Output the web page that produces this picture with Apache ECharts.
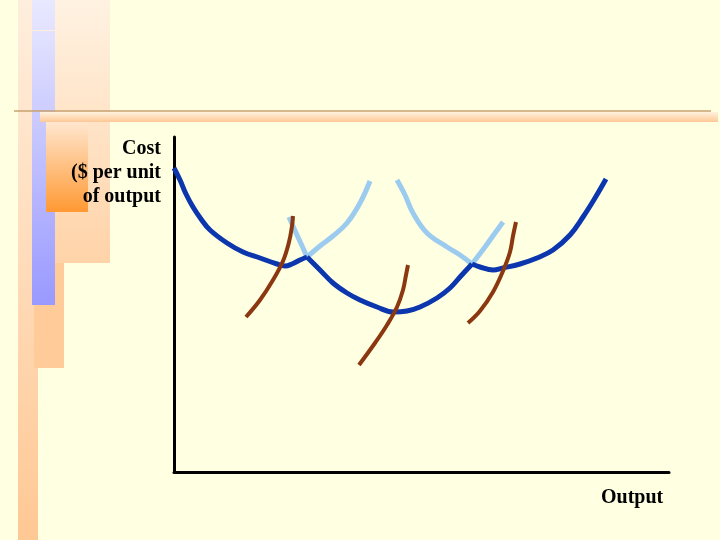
<!DOCTYPE html>
<html>
<head>
<meta charset="utf-8">
<script src="https://cdn.jsdelivr.net/npm/echarts@6/dist/echarts.min.js"></script>
<style>
  html, body { margin: 0; padding: 0; background: #FFFFE1; }
  #chart { width: 720px; height: 540px; }
</style>
</head>
<body>
<div id="chart"></div>
<script>
// Units are arbitrary: output (x) 0..495, cost per unit (y) 0..335.
// Long-run envelope, built from three short-run average cost pieces.
const sac1Low = [[0,304],[6,292],[12,278],[19,265],[27,253],[36,242],[53,229],[69,220],[86,214],[103,208],[111,206],[118,208],[126,212],[133,215]]
const sac2Low = [[133,215],[146,202],[159,189],[173,179],[186,172],[203,165],[219,160],[233,161],[246,165],[263,174],[276,184],[286,195],[298,208]]
const sac3Low = [[298,208],[306,205],[319,202],[329,204],[346,208],[363,214],[379,222],[396,237],[409,255],[421,274],[432,293]]

// Parts of the short-run curves that sit above the envelope
const sac2Left  = [[115,255],[123,237],[129,224],[133,215]]
const sac1Right = [[133,215],[146,226],[159,236],[173,249],[186,269],[196,291]]
const sac3Left  = [[223,292],[231,277],[239,259],[253,239],[273,225],[286,217],[298,208]]
const sac2Right = [[298,208],[311,225],[321,239],[329,250]]

// Short-run marginal cost curves
const smc1 = [[72,155],[86,172],[99,192],[109,211],[115,230],[118,246],[119,256]]
const smc2 = [[185,107],[201,129],[213,147],[223,165],[229,182],[232,197],[234,207]]
const smc3 = [[294,149],[306,161],[319,180],[329,201],[336,220],[339,236],[342,250]]

const DARK = '#0C36AE'
const LIGHT = '#9CCBF0'
const BROWN = '#8B3810'

const chart = echarts.init(document.getElementById('chart'), null, { renderer: 'canvas' })

const line = (data, color, width) => ({
  type: 'line', data, smooth: 0.4, showSymbol: false, clip: false,
  lineStyle: { color, width }, silent: true,
})

const vgrad = (c0, c1) => new echarts.graphic.LinearGradient(0, 0, 0, 1, [
  { offset: 0, color: c0 }, { offset: 1, color: c1 },
])

const serif = '"Liberation Serif", "DejaVu Serif", serif'

chart.setOption({
  backgroundColor: '#FFFFE1',
  animation: false,
  grid: { left: 174, top: 137, width: 495, height: 335 },
  xAxis: {
    type: 'value', min: 0, max: 495,
    axisLine: { lineStyle: { color: '#000', width: 3 } },
    axisTick: { show: false }, axisLabel: { show: false }, splitLine: { show: false },
  },
  yAxis: {
    type: 'value', min: 0, max: 335,
    axisLine: { show: true, lineStyle: { color: '#000', width: 3 } },
    axisTick: { show: false }, axisLabel: { show: false }, splitLine: { show: false },
  },
  series: [
    line(sac2Left, LIGHT, 5),
    line(sac1Right, LIGHT, 5),
    line(sac3Left, LIGHT, 5),
    line(sac2Right, LIGHT, 5),
    line(sac1Low, DARK, 5),
    line(sac2Low, DARK, 5),
    line(sac3Low, DARK, 5),
    line(smc1, BROWN, 4),
    line(smc2, BROWN, 4),
    line(smc3, BROWN, 4),
  ],
  graphic: [
    // slide decoration on the left
    { type: 'rect', z: -5, shape: { x: 25, y: 0, width: 85, height: 263 }, style: { fill: vgrad('#FFF2E2', '#FFD3A8') } },
    { type: 'rect', z: -4, shape: { x: 18, y: 0, width: 20, height: 540 }, style: { fill: vgrad('#FFEEDD', '#FFC894') } },
    { type: 'rect', z: -4, shape: { x: 34, y: 263, width: 30, height: 105 }, style: { fill: '#FFCC99' } },
    { type: 'rect', z: -3, shape: { x: 32, y: 0, width: 23, height: 30 }, style: { fill: vgrad('#E8E8FF', '#E2E2FF') } },
    { type: 'rect', z: -3, shape: { x: 32, y: 31, width: 23, height: 274 }, style: { fill: vgrad('#E2E2FF', '#9999FF') } },
    { type: 'rect', z: -2, shape: { x: 46, y: 122, width: 42, height: 90 }, style: { fill: vgrad('#FFE6CE', '#FF9933') } },
    { type: 'rect', z: -2, shape: { x: 40, y: 112, width: 678, height: 10 }, style: { fill: vgrad('#FFF2DE', '#FFC896') } },
    { type: 'line', z: -1, shape: { x1: 14, y1: 111, x2: 711, y2: 111 }, style: { stroke: '#C8A070', lineWidth: 1.5 } },
    // axis titles
    {
      type: 'text', x: 161, y: 137,
      style: {
        text: 'Cost\n($ per unit\nof output', align: 'right', verticalAlign: 'top',
        font: 'bold 20px ' + serif, lineHeight: 24, fill: '#000',
      },
    },
    {
      type: 'text', x: 601, y: 486,
      style: {
        text: 'Output', align: 'left', verticalAlign: 'top',
        font: 'bold 20px ' + serif, lineHeight: 24, fill: '#000',
      },
    },
  ],
})
</script>
</body>
</html>
